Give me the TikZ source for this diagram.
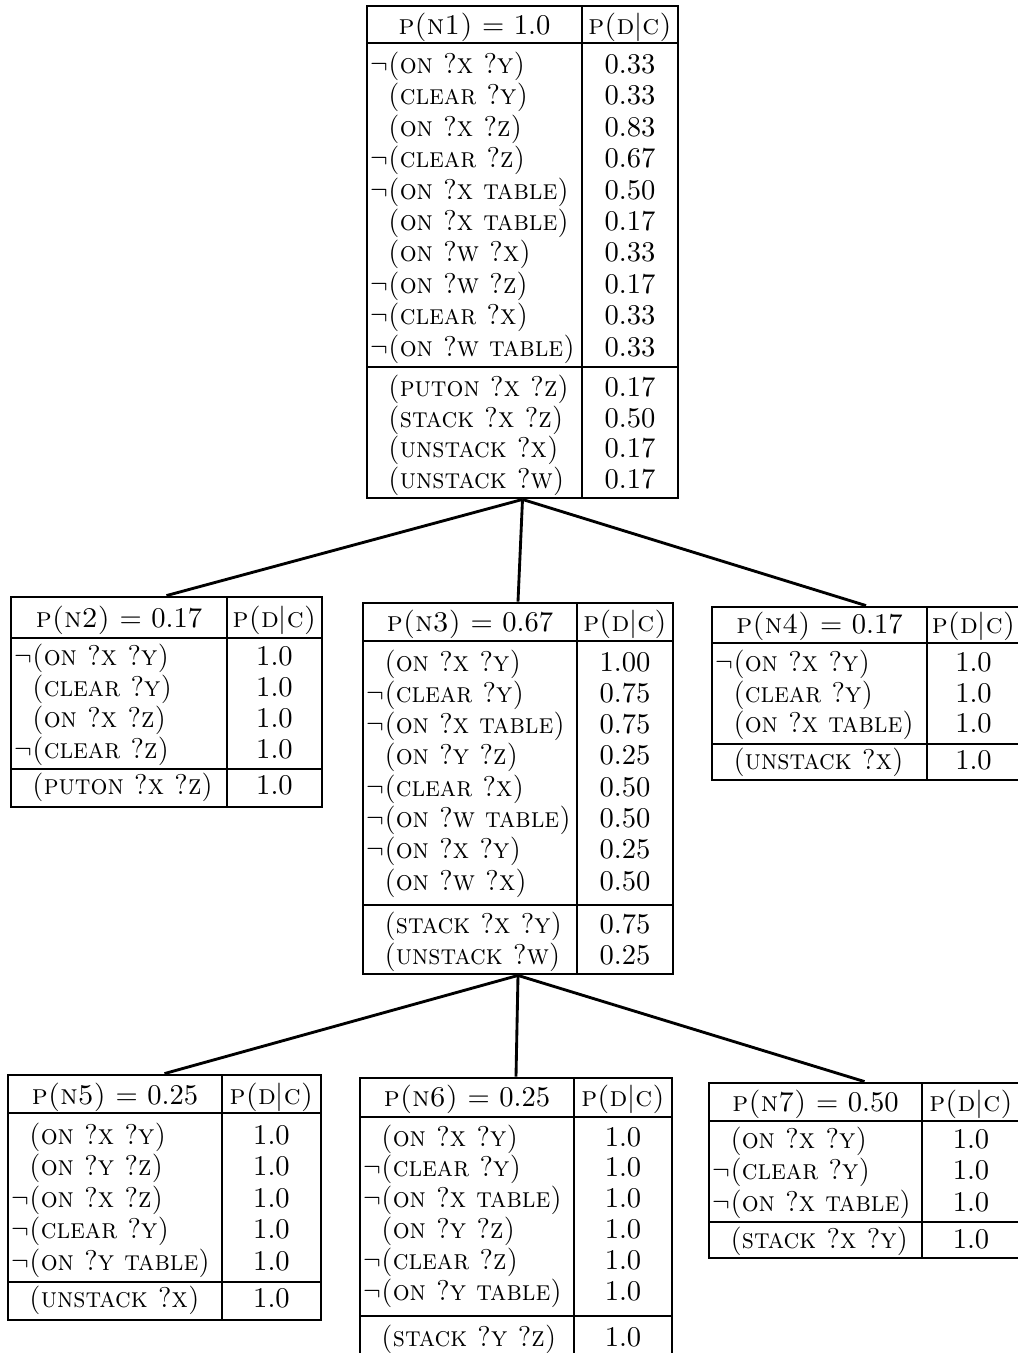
\documentclass[tikz,border=0pt]{standalone}
\usepackage{tikz}
\usetikzlibrary{positioning,fit}
\definecolor{ink}{RGB}{0,0,0}
\tikzset{
  frame/.style={draw=ink, line width=1pt, inner sep=0pt},
  rule/.style={draw=ink, line width=1pt},
  cell/.style={inner sep=0pt, font=\fontsize{10}{12}\selectfont, text=ink},
  lit/.style={cell, anchor=base west, xscale=0.93, transform shape},
  val/.style={cell, anchor=base},
  link/.style={draw=ink, line width=1pt},
}
\newcommand{\notlit}{$\neg$}
\newcommand{\poslit}{\hphantom{$\neg$}}
\newcommand{\pdc}{\textsc{p(d}$|$\textsc{c)}}

\begin{document}
\begin{tikzpicture}[x=0.35pt,y=-0.35pt]
  \useasboundingbox (0,0) rectangle (1017,1353);
  % root table N1
  \coordinate (n1nw) at (367,6);
  \coordinate (n1se) at (678,498);
  \node[frame, fit=(n1nw)(n1se)] (n1) {};
  \draw[rule] (582,6) -- (582,498);
  \draw[rule] (367,43) -- (678,43);
  \draw[rule] (367,367) -- (678,367);
  \node[val] (n1h) at (474.5,34) {\textsc{p(n1)} $=$ 1.0};
  \node[val] (n1p) at (630,34) {\pdc};
  \foreach \s/\t/\v [count=\i] in {\notlit/on ?x ?y/0.33, \poslit/clear ?y/0.33,
      \poslit/on ?x ?z/0.83, \notlit/clear ?z/0.67, \notlit/on ?x table/0.50,
      \poslit/on ?x table/0.17, \poslit/on ?w ?x/0.33, \notlit/on ?w ?z/0.17,
      \notlit/clear ?x/0.33, \notlit/on ?w table/0.33} {
    \node[lit] (n1c\i) at (370,{73.4+31.4*(\i-1)}) {\s\textsc{(\t)}};
    \node[val] (n1v\i) at (630,{73.4+31.4*(\i-1)}) {\v};
  }
  \foreach \t/\v [count=\i] in {puton ?x ?z/0.17, stack ?x ?z/0.50,
      unstack ?x/0.17, unstack ?w/0.17} {
    \node[lit] (n1a\i) at (370,{396.5+30.5*(\i-1)}) {\poslit\textsc{(\t)}};
    \node[val] (n1w\i) at (630,{396.5+30.5*(\i-1)}) {\v};
  }

  % table N2
  \coordinate (n2nw) at (11,597);
  \coordinate (n2se) at (322,807);
  \node[frame, fit=(n2nw)(n2se)] (n2) {};
  \draw[rule] (227,597) -- (227,807);
  \draw[rule] (11,638) -- (322,638);
  \draw[rule] (11,769) -- (322,769);
  \node[val] (n2h) at (119,627) {\textsc{p(n2)} $=$ 0.17};
  \node[val] (n2p) at (274.5,627) {\pdc};
  \foreach \s/\t [count=\i] in {\notlit/on ?x ?y, \poslit/clear ?y,
      \poslit/on ?x ?z, \notlit/clear ?z} {
    \node[lit] (n2c\i) at (14,{665+31*(\i-1)}) {\s\textsc{(\t)}};
    \node[val] (n2v\i) at (274.5,{665+31*(\i-1)}) {1.0};
  }
  \node[lit] (n2a1) at (14,794) {\poslit\textsc{(puton ?x ?z)}};
  \node[val] (n2w1) at (274.5,794) {1.0};

  % table N3
  \coordinate (n3nw) at (363,603);
  \coordinate (n3se) at (673,974);
  \node[frame, fit=(n3nw)(n3se)] (n3) {};
  \draw[rule] (577,603) -- (577,974);
  \draw[rule] (363,641) -- (673,641);
  \draw[rule] (363,905) -- (673,905);
  \node[val] (n3h) at (470,631) {\textsc{p(n3)} $=$ 0.67};
  \node[val] (n3p) at (625,631) {\pdc};
  \foreach \s/\t/\v [count=\i] in {\poslit/on ?x ?y/1.00, \notlit/clear ?y/0.75,
      \notlit/on ?x table/0.75, \poslit/on ?y ?z/0.25, \notlit/clear ?x/0.50,
      \notlit/on ?w table/0.50, \notlit/on ?x ?y/0.25, \poslit/on ?w ?x/0.50} {
    \node[lit] (n3c\i) at (366,{671+31.3*(\i-1)}) {\s\textsc{(\t)}};
    \node[val] (n3v\i) at (625,{671+31.3*(\i-1)}) {\v};
  }
  \foreach \t/\v [count=\i] in {stack ?x ?y/0.75, unstack ?w/0.25} {
    \node[lit] (n3a\i) at (366,{933+31*(\i-1)}) {\poslit\textsc{(\t)}};
    \node[val] (n3w\i) at (625,{933+31*(\i-1)}) {\v};
  }

  % table N4
  \coordinate (n4nw) at (712,607);
  \coordinate (n4se) at (1020,780);
  \node[frame, fit=(n4nw)(n4se)] (n4) {};
  \draw[rule] (927,607) -- (927,780);
  \draw[rule] (712,643) -- (1020,643);
  \draw[rule] (712,744) -- (1020,744);
  \node[val] (n4h) at (819.5,633) {\textsc{p(n4)} $=$ 0.17};
  \node[val] (n4p) at (973.5,633) {\pdc};
  \foreach \s/\t [count=\i] in {\notlit/on ?x ?y, \poslit/clear ?y,
      \poslit/on ?x table} {
    \node[lit] (n4c\i) at (715,{671.5+30.5*(\i-1)}) {\s\textsc{(\t)}};
    \node[val] (n4v\i) at (973.5,{671.5+30.5*(\i-1)}) {1.0};
  }
  \node[lit] (n4a1) at (715,769) {\poslit\textsc{(unstack ?x)}};
  \node[val] (n4w1) at (973.5,769) {1.0};

  % table N5
  \coordinate (n5nw) at (8,1075);
  \coordinate (n5se) at (321,1320);
  \node[frame, fit=(n5nw)(n5se)] (n5) {};
  \draw[rule] (222,1075) -- (222,1320);
  \draw[rule] (8,1113) -- (321,1113);
  \draw[rule] (8,1282) -- (321,1282);
  \node[val] (n5h) at (115,1104) {\textsc{p(n5)} $=$ 0.25};
  \node[val] (n5p) at (271.5,1104) {\pdc};
  \foreach \s/\t [count=\i] in {\poslit/on ?x ?y, \poslit/on ?y ?z,
      \notlit/on ?x ?z, \notlit/clear ?y, \notlit/on ?y table} {
    \node[lit] (n5c\i) at (11,{1144+31.5*(\i-1)}) {\s\textsc{(\t)}};
    \node[val] (n5v\i) at (271.5,{1144+31.5*(\i-1)}) {1.0};
  }
  \node[lit] (n5a1) at (11,1307) {\poslit\textsc{(unstack ?x)}};
  \node[val] (n5w1) at (271.5,1307) {1.0};

  % table N6
  \coordinate (n6nw) at (360,1078);
  \coordinate (n6se) at (672,1356);
  \node[frame, fit=(n6nw)(n6se)] (n6) {};
  \draw[rule] (574,1078) -- (574,1356);
  \draw[rule] (360,1117) -- (672,1117);
  \draw[rule] (360,1316) -- (672,1316);
  \node[val] (n6h) at (467,1106) {\textsc{p(n6)} $=$ 0.25};
  \node[val] (n6p) at (623,1106) {\pdc};
  \foreach \s/\t [count=\i] in {\poslit/on ?x ?y, \notlit/clear ?y,
      \notlit/on ?x table, \poslit/on ?y ?z, \notlit/clear ?z,
      \notlit/on ?y table} {
    \node[lit] (n6c\i) at (363,{1146+30.8*(\i-1)}) {\s\textsc{(\t)}};
    \node[val] (n6v\i) at (623,{1146+30.8*(\i-1)}) {1.0};
  }
  \node[lit] (n6a1) at (363,1346) {\poslit\textsc{(stack ?y ?z)}};
  \node[val] (n6w1) at (623,1346) {1.0};

  % table N7
  \coordinate (n7nw) at (709,1083);
  \coordinate (n7se) at (1020,1258);
  \node[frame, fit=(n7nw)(n7se)] (n7) {};
  \draw[rule] (922,1083) -- (922,1258);
  \draw[rule] (709,1121) -- (1020,1121);
  \draw[rule] (709,1222) -- (1020,1222);
  \node[val] (n7h) at (815.5,1111) {\textsc{p(n7)} $=$ 0.50};
  \node[val] (n7p) at (971,1111) {\pdc};
  \foreach \s/\t [count=\i] in {\poslit/on ?x ?y, \notlit/clear ?y,
      \notlit/on ?x table} {
    \node[lit] (n7c\i) at (712,{1148+31.5*(\i-1)}) {\s\textsc{(\t)}};
    \node[val] (n7v\i) at (971,{1148+31.5*(\i-1)}) {1.0};
  }
  \node[lit] (n7a1) at (712,1248) {\poslit\textsc{(stack ?x ?y)}};
  \node[val] (n7w1) at (971,1248) {1.0};

  % tree edges
  \draw[link] (n1.south) -- (n2.north);
  \draw[link] (n1.south) -- (n3.north);
  \draw[link] (n1.south) -- (n4.north);
  \draw[link] (n3.south) -- (n5.north);
  \draw[link] (n3.south) -- (n6.north);
  \draw[link] (n3.south) -- (n7.north);
\end{tikzpicture}
\end{document}
